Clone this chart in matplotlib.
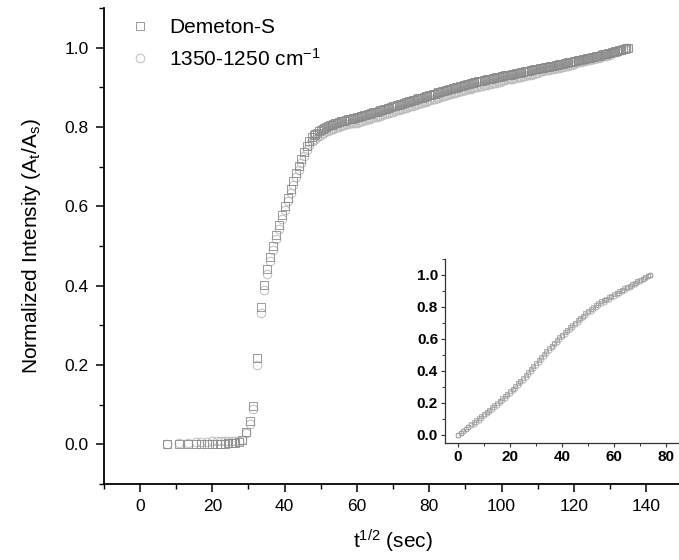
import numpy as np
import matplotlib
matplotlib.use("Agg")
import matplotlib.pyplot as plt
from matplotlib.ticker import MultipleLocator

plt.rcParams['font.family'] = ['Liberation Sans', 'DejaVu Sans']
plt.rcParams['mathtext.fontset'] = 'custom'
plt.rcParams['mathtext.rm'] = 'Liberation Sans'
plt.rcParams['mathtext.it'] = 'Liberation Sans:italic'
plt.rcParams['mathtext.bf'] = 'Liberation Sans:bold'

# ---- main data: t^(1/2) (sec) vs normalized intensity ----
x_main = [7.6, 10.7, 13.2, 15.5, 17.0, 18.6, 20.0, 21.2, 22.3, 23.4,
          24.4, 25.4, 26.4, 27.3, 28.3, 29.2, 30.3, 31.3, 32.4, 33.4,
          34.2, 35.1, 35.9, 36.8, 37.7, 38.5, 39.3, 40.1, 40.8, 41.7,
          42.4, 43.1, 43.9, 44.6, 45.4, 46.1, 46.8, 47.6,
          48.0, 48.5, 49.0, 49.5, 50.0, 50.5, 51.0, 51.5, 52.0, 52.5,
          53.0, 53.5, 54.0, 54.5, 55.0, 55.5, 56.0, 56.5, 57.0, 57.5,
          58.0, 58.5, 59.0, 59.5, 60.0, 60.5, 61.0, 61.5, 62.0, 62.5,
          63.0, 63.5, 64.0, 64.5, 65.0, 65.5, 66.0, 66.5, 67.0, 67.5,
          68.0, 68.5, 69.0, 69.5, 70.0, 70.5, 71.0, 71.5, 72.0, 72.5,
          73.0, 73.5, 74.0, 74.5, 75.0, 75.5, 76.0, 76.5, 77.0, 77.5,
          78.0, 78.5, 79.0, 79.5, 80.0, 80.5, 81.0, 81.5, 82.0, 82.5,
          83.0, 83.5, 84.0, 84.5, 85.0, 85.5, 86.0, 86.5, 87.0, 87.5,
          88.0, 88.5, 89.0, 89.5, 90.0, 90.5, 91.0, 91.5, 92.0, 92.5,
          93.0, 93.5, 94.0, 94.5, 95.0, 95.5, 96.0, 96.5, 97.0, 97.5,
          98.0, 98.5, 99.0, 99.5, 100.0, 100.5, 101.0, 101.5, 102.0, 102.5,
          103.0, 103.5, 104.0, 104.5, 105.0, 105.5, 106.0, 106.5, 107.0, 107.5,
          108.0, 108.5, 109.0, 109.5, 110.0, 110.5, 111.0, 111.5, 112.0, 112.5,
          113.0, 113.5, 114.0, 114.5, 115.0, 115.5, 116.0, 116.5, 117.0, 117.5,
          118.0, 118.5, 119.0, 119.5, 120.0, 120.5, 121.0, 121.5, 122.0, 122.5,
          123.0, 123.5, 124.0, 124.5, 125.0, 125.5, 126.0, 126.5, 127.0, 127.5,
          128.0, 128.5, 129.0, 129.5, 130.0, 130.5, 131.0, 131.5, 132.0, 132.5,
          133.0, 133.5, 134.0, 134.5, 135.0]

demeton = [0.000, 0.000, 0.000, 0.001, 0.001, 0.001, 0.002, 0.002, 0.002, 0.002,
           0.003, 0.003, 0.004, 0.005, 0.012, 0.032, 0.058, 0.097, 0.218, 0.345,
           0.402, 0.442, 0.472, 0.499, 0.527, 0.552, 0.578, 0.600, 0.622, 0.643,
           0.664, 0.683, 0.702, 0.719, 0.736, 0.752, 0.765, 0.775,
           0.779, 0.782, 0.786, 0.789, 0.792, 0.795, 0.797, 0.800, 0.802, 0.804,
           0.806, 0.807, 0.809, 0.811, 0.812, 0.814, 0.815, 0.816, 0.818, 0.819,
           0.820, 0.821, 0.822, 0.823, 0.824, 0.825, 0.827, 0.828, 0.830, 0.831,
           0.832, 0.834, 0.835, 0.837, 0.838, 0.839, 0.841, 0.842, 0.844, 0.845,
           0.846, 0.848, 0.849, 0.851, 0.852, 0.853, 0.855, 0.856, 0.858, 0.859,
           0.860, 0.862, 0.863, 0.865, 0.866, 0.867, 0.869, 0.870, 0.872, 0.873,
           0.874, 0.876, 0.877, 0.879, 0.880, 0.881, 0.883, 0.884, 0.886, 0.887,
           0.888, 0.890, 0.891, 0.893, 0.894, 0.895, 0.897, 0.898, 0.899, 0.901,
           0.902, 0.903, 0.904, 0.906, 0.907, 0.908, 0.909, 0.910, 0.911, 0.913,
           0.914, 0.915, 0.916, 0.917, 0.918, 0.919, 0.920, 0.921, 0.922, 0.923,
           0.924, 0.925, 0.926, 0.927, 0.928, 0.929, 0.930, 0.931, 0.932, 0.932,
           0.933, 0.934, 0.935, 0.936, 0.937, 0.938, 0.939, 0.940, 0.941, 0.942,
           0.943, 0.944, 0.945, 0.946, 0.947, 0.948, 0.949, 0.950, 0.951, 0.951,
           0.952, 0.953, 0.954, 0.955, 0.956, 0.957, 0.958, 0.959, 0.960, 0.961,
           0.962, 0.963, 0.964, 0.965, 0.966, 0.967, 0.968, 0.969, 0.970, 0.971,
           0.972, 0.973, 0.974, 0.975, 0.976, 0.977, 0.978, 0.979, 0.980, 0.982,
           0.983, 0.984, 0.985, 0.986, 0.987, 0.988, 0.990, 0.991, 0.992, 0.994,
           0.995, 0.996, 0.997, 0.999, 1.000]

band_1350 = [0.002, 0.003, 0.004, 0.005, 0.006, 0.007, 0.008, 0.009, 0.009, 0.009,
             0.009, 0.008, 0.008, 0.008, 0.012, 0.028, 0.052, 0.088, 0.200, 0.330,
             0.388, 0.430, 0.461, 0.489, 0.517, 0.543, 0.569, 0.591, 0.613, 0.634,
             0.654, 0.673, 0.692, 0.709, 0.726, 0.741, 0.754, 0.764,
             0.768, 0.771, 0.775, 0.778, 0.781, 0.784, 0.786, 0.789, 0.791, 0.793,
             0.795, 0.796, 0.798, 0.800, 0.801, 0.803, 0.804, 0.805, 0.807, 0.808,
             0.809, 0.809, 0.810, 0.811, 0.811, 0.812, 0.814, 0.815, 0.817, 0.818,
             0.819, 0.821, 0.822, 0.824, 0.825, 0.826, 0.828, 0.829, 0.831, 0.832,
             0.833, 0.835, 0.836, 0.838, 0.839, 0.840, 0.842, 0.843, 0.845, 0.846,
             0.847, 0.849, 0.850, 0.852, 0.853, 0.854, 0.856, 0.857, 0.859, 0.860,
             0.861, 0.863, 0.864, 0.866, 0.867, 0.868, 0.870, 0.871, 0.873, 0.874,
             0.875, 0.877, 0.878, 0.880, 0.881, 0.882, 0.884, 0.885, 0.886, 0.888,
             0.889, 0.890, 0.891, 0.893, 0.894, 0.895, 0.896, 0.897, 0.898, 0.900,
             0.901, 0.902, 0.903, 0.904, 0.905, 0.906, 0.907, 0.908, 0.909, 0.910,
             0.911, 0.912, 0.913, 0.914, 0.915, 0.918, 0.919, 0.920, 0.921, 0.921,
             0.922, 0.923, 0.924, 0.925, 0.926, 0.927, 0.928, 0.929, 0.930, 0.931,
             0.932, 0.933, 0.934, 0.935, 0.936, 0.940, 0.941, 0.942, 0.943, 0.943,
             0.944, 0.945, 0.946, 0.947, 0.948, 0.949, 0.950, 0.951, 0.952, 0.953,
             0.954, 0.955, 0.956, 0.957, 0.958, 0.962, 0.963, 0.964, 0.965, 0.966,
             0.967, 0.968, 0.969, 0.970, 0.971, 0.972, 0.973, 0.974, 0.975, 0.977,
             0.978, 0.979, 0.980, 0.981, 0.982, 0.986, 0.988, 0.989, 0.990, 0.992,
             0.993, 0.995, 0.996, 0.998, 1.000]

# ---- inset data ----
x_inset = [0, 1, 2, 3, 4, 5, 6, 7, 8, 9, 10, 11, 12, 13, 14, 15, 16, 17, 18, 19,
           20, 21, 22, 23, 24, 25, 26, 27, 28, 29, 30, 31, 32, 33, 34, 35, 36, 37,
           38, 39, 40, 41, 42, 43, 44, 45, 46, 47, 48, 49, 50, 51, 52, 53, 54, 55,
           56, 57, 58, 59, 60, 61, 62, 63, 64, 65, 66, 67, 68, 69, 70, 71, 72, 73, 74]
inset_sq = [0.000, 0.013, 0.026, 0.040, 0.053, 0.066, 0.079, 0.092, 0.106, 0.119,
            0.132, 0.145, 0.159, 0.172, 0.186, 0.199, 0.214, 0.229, 0.243, 0.258,
            0.273, 0.289, 0.306, 0.322, 0.339, 0.355, 0.374, 0.392, 0.411, 0.429,
            0.448, 0.467, 0.486, 0.504, 0.523, 0.542, 0.559, 0.576, 0.593, 0.610,
            0.627, 0.642, 0.657, 0.672, 0.687, 0.702, 0.717, 0.732, 0.746, 0.761,
            0.776, 0.788, 0.800, 0.811, 0.823, 0.835, 0.844, 0.853, 0.862, 0.871,
            0.880, 0.889, 0.898, 0.907, 0.916, 0.925, 0.934, 0.943, 0.952, 0.961,
            0.970, 0.978, 0.985, 0.993, 1.000]
inset_ci = [0.000, 0.012, 0.024, 0.037, 0.049, 0.061, 0.069, 0.082, 0.096, 0.109,
            0.122, 0.135, 0.149, 0.162, 0.176, 0.189, 0.204, 0.219, 0.233, 0.248,
            0.263, 0.279, 0.296, 0.312, 0.329, 0.345, 0.364, 0.382, 0.401, 0.419,
            0.438, 0.457, 0.476, 0.494, 0.513, 0.532, 0.549, 0.566, 0.583, 0.600,
            0.617, 0.632, 0.647, 0.662, 0.677, 0.692, 0.707, 0.722, 0.736, 0.751,
            0.766, 0.778, 0.790, 0.801, 0.813, 0.825, 0.834, 0.843, 0.852, 0.861,
            0.870, 0.879, 0.888, 0.897, 0.906, 0.916, 0.926, 0.935, 0.945, 0.955,
            0.964, 0.973, 0.982, 0.991, 1.000]

sq_color = '#8a8a8a'
ci_color = '#bdbdbd'

fig = plt.figure(figsize=(6.79, 5.60), dpi=100)
ax = fig.add_axes([0.1529, 0.1357, 0.8521, 0.85])

ax.plot(x_main, band_1350, linestyle='none', marker='o', markersize=6.2,
        markerfacecolor='none', markeredgecolor=ci_color, markeredgewidth=0.7,
        label='1350-1250 cm$^{-1}$')
ax.plot(x_main, demeton, linestyle='none', marker='s', markersize=6,
        markerfacecolor='none', markeredgecolor=sq_color, markeredgewidth=0.6,
        label='Demeton-S')

ax.set_xlim(-10, 150)
ax.set_ylim(-0.1, 1.1)
ax.xaxis.set_major_locator(MultipleLocator(20))
ax.xaxis.set_minor_locator(MultipleLocator(10))
ax.yaxis.set_major_locator(MultipleLocator(0.2))
ax.yaxis.set_minor_locator(MultipleLocator(0.1))
ax.yaxis.set_major_formatter(plt.FormatStrFormatter('%.1f'))
for s in ['top', 'right']:
    ax.spines[s].set_visible(False)
for s in ['left', 'bottom']:
    ax.spines[s].set_linewidth(1.3)
ax.tick_params(which='major', direction='out', length=6, width=1.1,
               labelsize=12.5, pad=5)
ax.tick_params(which='minor', direction='out', length=3.5, width=1.0)
ax.set_xlabel('t$^{\\mathrm{1/2}}$ (sec)', fontsize=15, labelpad=10)
ax.set_ylabel('Normalized Intensity (A$_\\mathrm{t}$/A$_\\mathrm{s}$)', fontsize=15, labelpad=15)

handles, labels = ax.get_legend_handles_labels()
ax.legend(handles[::-1], labels[::-1], loc='upper left', bbox_to_anchor=(0.012, 1.018),
          frameon=False, fontsize=15, numpoints=1, handlelength=1.0,
          handletextpad=0.9, labelspacing=0.5)

# inset
axi = fig.add_axes([445 / 679, 117 / 560, 234 / 679, 184 / 560])
axi.plot(x_inset, inset_ci, linestyle='none', marker='o', markersize=3.6,
         markerfacecolor='none', markeredgecolor=ci_color, markeredgewidth=0.8)
axi.plot(x_inset, inset_sq, linestyle='none', marker='s', markersize=3.0,
         markerfacecolor='none', markeredgecolor='#9a9a9a', markeredgewidth=0.5)
axi.set_xlim(-5, 85)
axi.set_ylim(-0.05, 1.1)
axi.xaxis.set_major_locator(MultipleLocator(20))
axi.xaxis.set_minor_locator(MultipleLocator(10))
axi.yaxis.set_major_locator(MultipleLocator(0.2))
axi.yaxis.set_minor_locator(MultipleLocator(0.1))
axi.yaxis.set_major_formatter(plt.FormatStrFormatter('%.1f'))
for s in ['top', 'right']:
    axi.spines[s].set_visible(False)
for s in ['left', 'bottom']:
    axi.spines[s].set_linewidth(0.9)
    axi.spines[s].set_color('#333333')
axi.tick_params(which='major', direction='out', length=3, width=0.8,
                labelsize=11, pad=2, color='#333333')
axi.tick_params(which='minor', direction='out', length=2, width=0.7, color='#333333')
for lab in axi.get_xticklabels() + axi.get_yticklabels():
    lab.set_fontweight('bold')

fig.savefig('out.png', dpi=100)
